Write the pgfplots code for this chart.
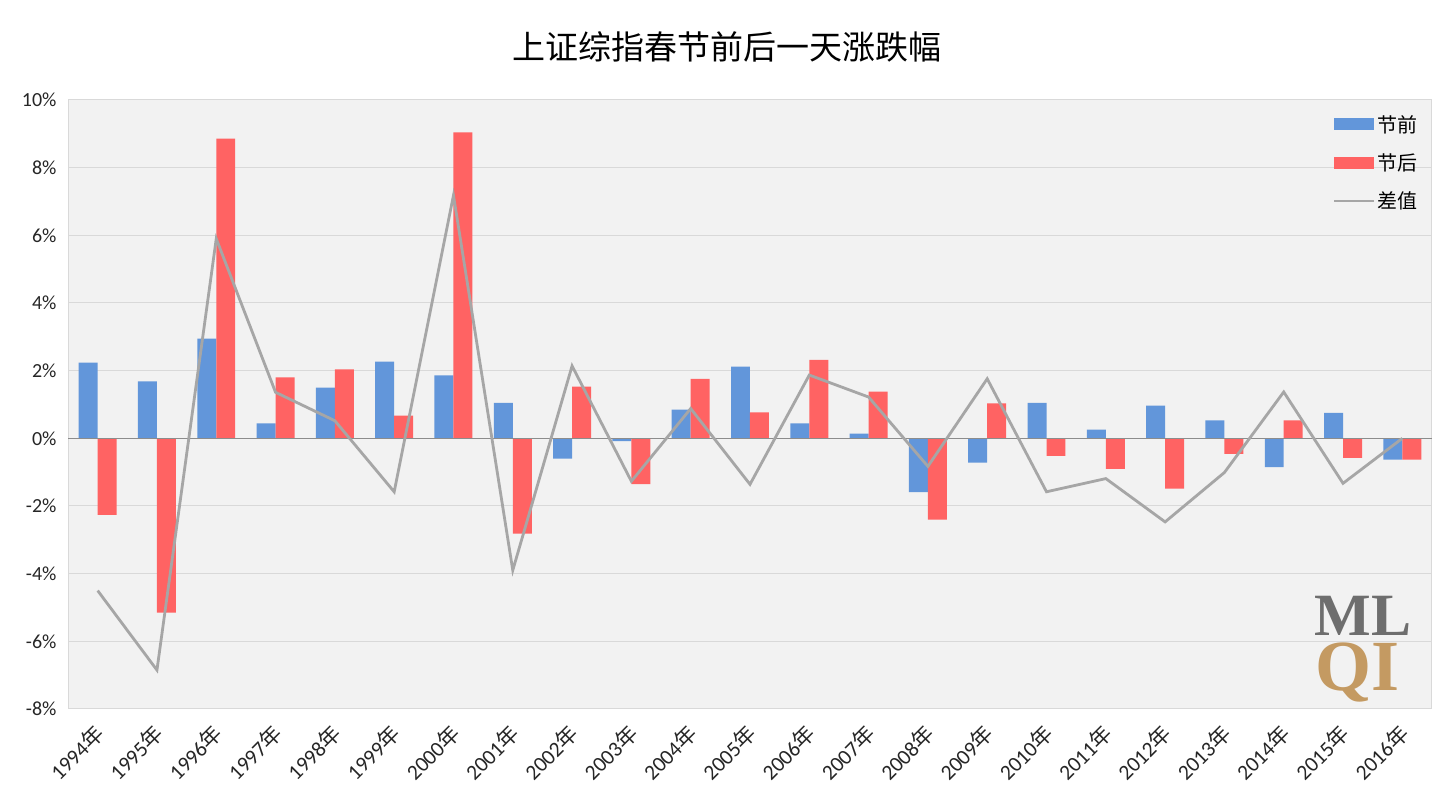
\documentclass[border=0pt]{standalone}
\usepackage{fontspec}
\setmainfont{Carlito}
\newfontfamily\cjk{Noto Sans CJK SC}
\newfontfamily\logofont{Liberation Serif}
\usepackage{pgfplots}
\usepackage{pgfplotstable}
\pgfplotsset{compat=1.18}

\definecolor{qianblue}{HTML}{6296DA}
\definecolor{houred}{HTML}{FF6363}
\definecolor{diffgray}{HTML}{A6A6A6}
\definecolor{bggray}{HTML}{F2F2F2}
\definecolor{gridgray}{HTML}{D9D9D9}
\definecolor{zerogray}{HTML}{8C8C8C}
\definecolor{logogray}{HTML}{6E6E6E}
\definecolor{logotan}{HTML}{C49A62}

% idx: 0 = 1994 ... 22 = 2016; values in %
\pgfplotstableread{
idx pre   post  diff
0   2.24  -2.26 -4.50
1   1.68  -5.15 -6.85
2   2.95   8.86  5.90
3   0.44   1.80  1.36
4   1.50   2.04  0.52
5   2.27   0.67 -1.58
6   1.86   9.04  7.18
7   1.05  -2.82 -3.90
8  -0.60   1.53  2.14
9  -0.08  -1.35 -1.27
10  0.85   1.76  0.88
11  2.12   0.77 -1.36
12  0.44   2.32  1.87
13  0.14   1.38  1.22
14 -1.59  -2.40 -0.83
15 -0.72   1.03  1.76
16  1.05  -0.52 -1.58
17  0.26  -0.90 -1.19
18  0.97  -1.49 -2.47
19  0.53  -0.46 -1.01
20 -0.85   0.53  1.37
21  0.75  -0.58 -1.33
22 -0.63  -0.63  0.00
}\datatable

\begin{document}
\begin{tikzpicture}
\path[use as bounding box] (-68pt,-93pt) rectangle (1385pt,709pt);
\begin{axis}[
    scale only axis,
    width=1364pt, height=609pt,
    xmin=-0.5, xmax=22.5,
    ymin=-8, ymax=10,
    xtick={0,...,22},
    xticklabels={1994{\cjk 年},1995{\cjk 年},1996{\cjk 年},1997{\cjk 年},1998{\cjk 年},
                 1999{\cjk 年},2000{\cjk 年},2001{\cjk 年},2002{\cjk 年},2003{\cjk 年},
                 2004{\cjk 年},2005{\cjk 年},2006{\cjk 年},2007{\cjk 年},2008{\cjk 年},
                 2009{\cjk 年},2010{\cjk 年},2011{\cjk 年},2012{\cjk 年},2013{\cjk 年},
                 2014{\cjk 年},2015{\cjk 年},2016{\cjk 年}},
    ytick={-8,-6,...,10},
    yticklabels={-8\%,-6\%,-4\%,-2\%,0\%,2\%,4\%,6\%,8\%,10\%},
    major tick length=0pt,
    ymajorgrids=true,
    grid style={color=gridgray, line width=1pt},
    axis line style={color=gridgray, line width=1pt},
    axis background/.style={fill=bggray},
    tick label style={font=\fontsize{20}{24}\selectfont, text=black!85},
    yticklabel style={xshift=-8pt},
    xticklabel style={font=\fontsize{21.5}{25}\selectfont, rotate=45, anchor=north east,
                      inner sep=0pt, xshift=-13pt, yshift=-6pt},
    legend style={at={(rel axis cs:1,1)}, anchor=north east, xshift=-12pt, yshift=-13pt,
                  draw=none, fill=none, font=\cjk\fontsize{20}{24}\selectfont,
                  row sep=16pt, inner sep=0pt},
    legend cell align=left,
]
\addplot[ybar, bar width=0.32, bar shift=-0.16, fill=qianblue, draw=none,
    legend image code/.code={\fill[qianblue] (0pt,-6pt) rectangle (40pt,6pt);}]
    table[x=idx, y=pre] {\datatable};
\addlegendentry{节前}
\addplot[ybar, bar width=0.32, bar shift=0.16, fill=houred, draw=none,
    legend image code/.code={\fill[houred] (0pt,-6pt) rectangle (40pt,6pt);}]
    table[x=idx, y=post] {\datatable};
\addlegendentry{节后}
\draw[zerogray, line width=1.5pt] (axis cs:-0.5,0) -- (axis cs:22.5,0);
\addplot[diffgray, line width=2.8pt, mark=none,
    legend image code/.code={\draw[diffgray, line width=2.8pt] (0pt,0pt) -- (40pt,0pt);}]
    table[x=idx, y=diff] {\datatable};
\addlegendentry{差值}
\end{axis}
\node[font=\cjk\fontsize{33}{40}\selectfont, text=black] at (658.5pt,662pt) {上证综指春节前后一天涨跌幅};
\node[font=\logofont\bfseries\fontsize{60}{60}\selectfont, text=logogray] at (1295pt,93pt) {ML};
\node[font=\logofont\bfseries\fontsize{72}{72}\selectfont, text=logotan] at (1289pt,36pt) {QI};
\end{tikzpicture}
\end{document}
